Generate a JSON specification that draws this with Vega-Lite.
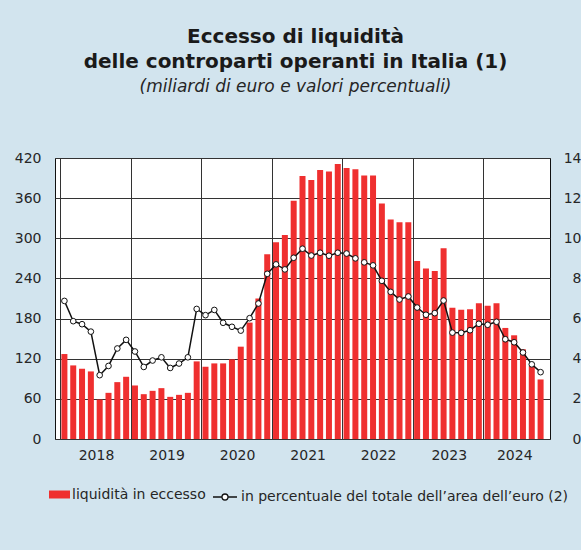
{
  "$schema": "https://vega.github.io/schema/vega-lite/v6.json",
  "width": 495,
  "height": 281,
  "autosize": {"type": "none"},
  "padding": {"left": 55, "top": 158, "right": 31, "bottom": 111},
  "background": "#d2e4ee",
  "config": {
    "font": "DejaVu Sans",
    "view": {"fill": "white", "stroke": "#111111", "strokeWidth": 1},
    "axis": {
      "labelFont": "DejaVu Sans",
      "labelFontSize": 14,
      "labelColor": "#262626",
      "ticks": false,
      "domain": false,
      "gridColor": "#333333",
      "gridWidth": 1,
      "gridOpacity": 1,
      "title": null
    },
    "legend": {
      "labelFont": "DejaVu Sans",
      "labelFontSize": 14,
      "labelColor": "#262626",
      "labelLimit": 500,
      "title": null,
      "orient": "none",
      "padding": 0
    }
  },
  "title": {
    "text": ["Eccesso di liquidità", "delle controparti operanti in Italia (1)"],
    "subtitle": "(miliardi di euro e valori percentuali)",
    "font": "DejaVu Sans",
    "fontSize": 20,
    "fontWeight": "bold",
    "color": "#1a1a1a",
    "lineHeight": 25,
    "subtitleFont": "DejaVu Sans",
    "subtitleFontSize": 17,
    "subtitleFontStyle": "italic",
    "subtitleColor": "#262626",
    "subtitlePadding": 7,
    "anchor": "middle",
    "frame": "group",
    "dx": -7,
    "offset": 56
  },
  "data": {
    "values": [
      {"i": 1, "liq": 127, "pct": 6.88, "seg": 1},
      {"i": 2, "liq": 110, "pct": 5.87, "seg": 1},
      {"i": 3, "liq": 105, "pct": 5.72, "seg": 1},
      {"i": 4, "liq": 101, "pct": 5.35, "seg": 1},
      {"i": 5, "liq": 59, "pct": 3.18, "seg": 1},
      {"i": 6, "liq": 69, "pct": 3.64, "seg": 1},
      {"i": 7, "liq": 85, "pct": 4.51, "seg": 1},
      {"i": 8, "liq": 93, "pct": 4.94, "seg": 1},
      {"i": 9, "liq": 80, "pct": 4.36, "seg": 1},
      {"i": 10, "liq": 67, "pct": 3.59, "seg": 1},
      {"i": 11, "liq": 72, "pct": 3.91, "seg": 1},
      {"i": 12, "liq": 76, "pct": 4.07, "seg": 1},
      {"i": 13, "liq": 63, "pct": 3.54, "seg": 1},
      {"i": 14, "liq": 66, "pct": 3.76, "seg": 1},
      {"i": 15, "liq": 69, "pct": 4.07, "seg": 1},
      {"i": 16, "liq": 116, "pct": 6.48, "seg": 1},
      {"i": 17, "liq": 108, "pct": 6.17, "seg": 1},
      {"i": 18, "liq": 113, "pct": 6.43, "seg": 1},
      {"i": 19, "liq": 113, "pct": 5.79, "seg": 1},
      {"i": 20, "liq": 119, "pct": 5.59, "seg": 1},
      {"i": 21, "liq": 138, "pct": 5.40, "seg": 1},
      {"i": 22, "liq": 174, "pct": 6.02, "seg": 1},
      {"i": 23, "liq": 210, "pct": 6.75, "seg": 1},
      {"i": 24, "liq": 276, "pct": 8.23, "seg": 1},
      {"i": 25, "liq": 294, "pct": 8.70, "seg": 1},
      {"i": 26, "liq": 305, "pct": 8.45, "seg": 1},
      {"i": 27, "liq": 356, "pct": 9.03, "seg": 1},
      {"i": 28, "liq": 393, "pct": 9.48, "seg": 1},
      {"i": 29, "liq": 387, "pct": 9.14, "seg": 1},
      {"i": 30, "liq": 402, "pct": 9.28, "seg": 1},
      {"i": 31, "liq": 400, "pct": 9.13, "seg": 1},
      {"i": 32, "liq": 411, "pct": 9.28, "seg": 1},
      {"i": 33, "liq": 405, "pct": 9.24, "seg": 1},
      {"i": 34, "liq": 403, "pct": 9.00, "seg": 1},
      {"i": 35, "liq": 394, "pct": 8.80, "seg": 2},
      {"i": 36, "liq": 394, "pct": 8.65, "seg": 2},
      {"i": 37, "liq": 352, "pct": 7.88, "seg": 2},
      {"i": 38, "liq": 328, "pct": 7.33, "seg": 2},
      {"i": 39, "liq": 324, "pct": 6.95, "seg": 2},
      {"i": 40, "liq": 324, "pct": 7.10, "seg": 2},
      {"i": 41, "liq": 266, "pct": 6.55, "seg": 2},
      {"i": 42, "liq": 255, "pct": 6.19, "seg": 2},
      {"i": 43, "liq": 251, "pct": 6.27, "seg": 2},
      {"i": 44, "liq": 285, "pct": 6.90, "seg": 2},
      {"i": 45, "liq": 196, "pct": 5.30, "seg": 2},
      {"i": 46, "liq": 193, "pct": 5.29, "seg": 2},
      {"i": 47, "liq": 194, "pct": 5.42, "seg": 2},
      {"i": 48, "liq": 203, "pct": 5.74, "seg": 2},
      {"i": 49, "liq": 199, "pct": 5.69, "seg": 2},
      {"i": 50, "liq": 203, "pct": 5.84, "seg": 2},
      {"i": 51, "liq": 166, "pct": 4.97, "seg": 2},
      {"i": 52, "liq": 155, "pct": 4.82, "seg": 2},
      {"i": 53, "liq": 134, "pct": 4.31, "seg": 2},
      {"i": 54, "liq": 109, "pct": 3.72, "seg": 2},
      {"i": 55, "liq": 89, "pct": 3.33, "seg": 2}
    ]
  },
  "layer": [
    {
      "mark": {"type": "bar", "width": 6},
      "encoding": {
        "x": {
          "field": "i",
          "type": "quantitative",
          "scale": {"domain": [0.5, 55.5], "nice": false, "zero": false},
          "axis": {
            "values": [0.5, 8.5, 16.5, 24.5, 32.5, 40.5, 48.5],
            "grid": true,
            "labelExpr": "'' + (2018 + floor(datum.value / 8))",
            "labelOffset": {"condition": {"test": "datum.value > 48", "value": 31}, "value": 36},
            "labelPadding": 9,
            "labelFontSize": 14
          }
        },
        "y": {
          "field": "liq",
          "type": "quantitative",
          "scale": {"domain": [0, 420], "nice": false},
          "axis": {
            "values": [0, 60, 120, 180, 240, 300, 360, 420],
            "grid": true,
            "labelPadding": 14
          }
        },
        "fill": {
          "datum": "liquidità in eccesso",
          "scale": {"domain": ["liquidità in eccesso"], "range": ["#ef2f2f"]},
          "legend": {
            "symbolType": "M-1,-0.38H1V0.38H-1Z",
            "symbolSize": 441,
            "symbolStrokeWidth": 0,
            "labelOffset": 2,
            "legendX": -6,
            "legendY": 326
          }
        }
      }
    },
    {
      "encoding": {
        "x": {"field": "i", "type": "quantitative"},
        "y": {
          "field": "pct",
          "type": "quantitative",
          "scale": {"domain": [0, 14], "nice": false},
          "axis": {
            "orient": "right",
            "values": [0, 2, 4, 6, 8, 10, 12, 14],
            "grid": false,
            "labelAlign": "right",
            "labelPadding": 31
          }
        }
      },
      "layer": [
        {
          "mark": {"type": "line", "strokeWidth": 1.5},
          "encoding": {
            "detail": {"field": "seg", "type": "nominal"},
            "stroke": {
              "datum": "in percentuale del totale dell’area dell’euro (2)",
              "scale": {"domain": ["in percentuale del totale dell’area dell’euro (2)"], "range": ["#111111"]},
              "legend": {
                "symbolType": "M-1,0H-0.25M0.25,0H1M0.25,0A0.25,0.25,0,1,1,-0.25,0A0.25,0.25,0,1,1,0.25,0",
                "symbolSize": 576,
                "symbolStrokeWidth": 1.3,
                "symbolFillColor": "white",
                "labelOffset": 3,
                "legendX": 157,
                "legendY": 326
              }
            }
          }
        },
        {
          "mark": {"type": "point", "filled": true, "fill": "white", "stroke": "#111111", "strokeWidth": 1, "size": 32, "opacity": 1},
          "encoding": {}
        }
      ]
    }
  ],
  "resolve": {"scale": {"y": "independent"}}
}
